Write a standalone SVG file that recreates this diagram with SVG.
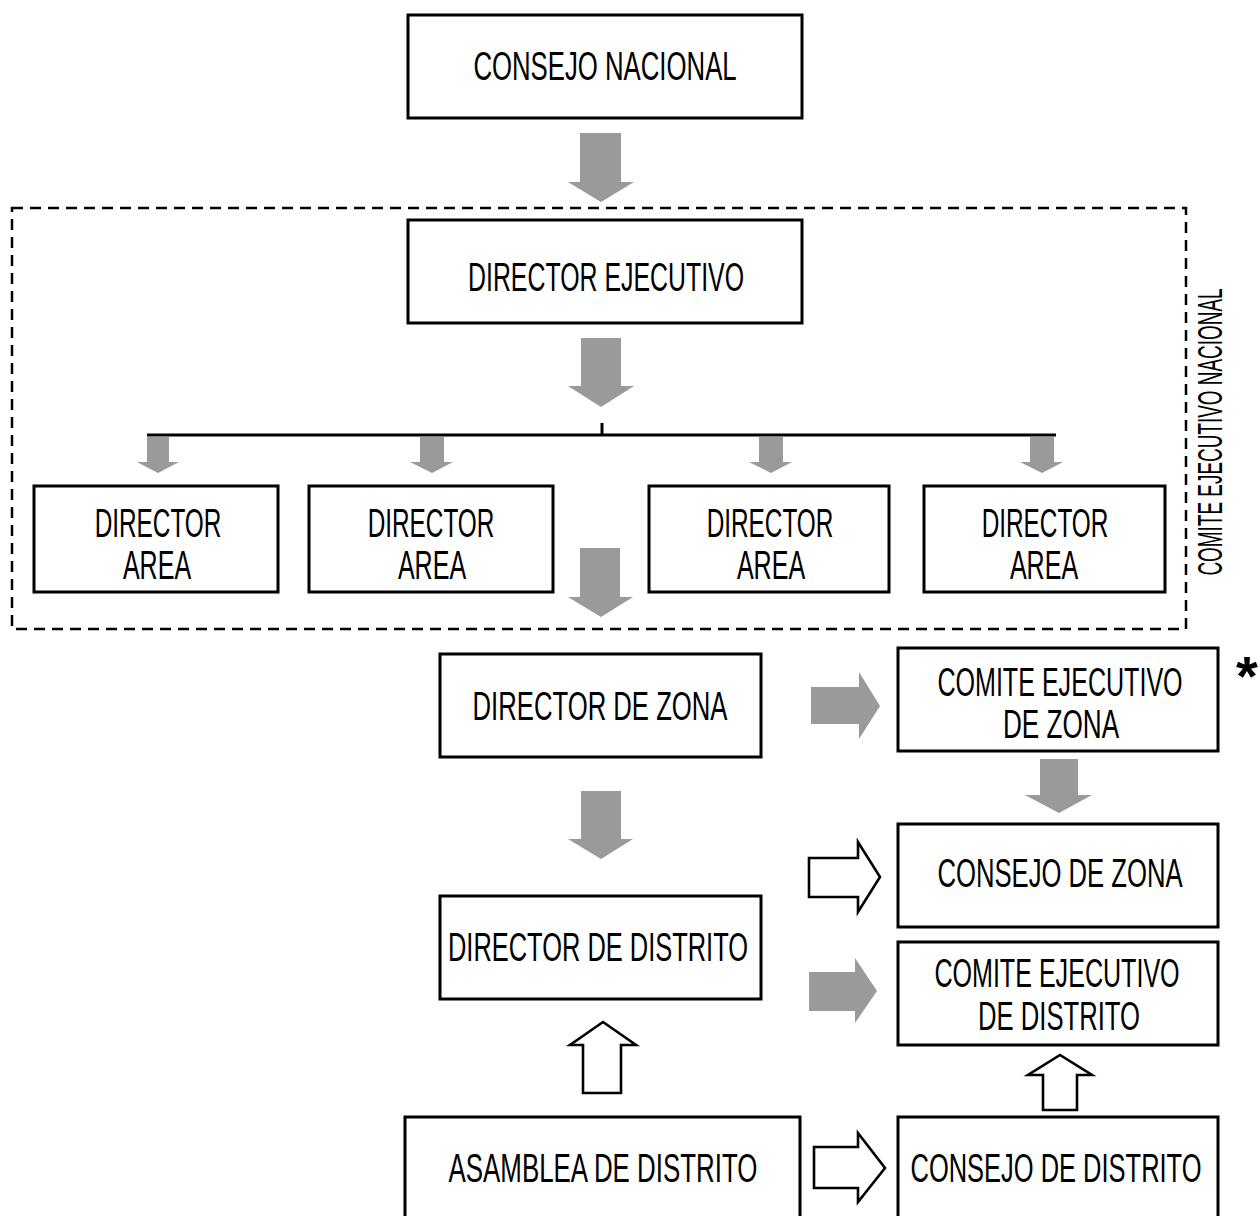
<svg xmlns="http://www.w3.org/2000/svg" width="1260" height="1216" viewBox="0 0 1260 1216">
<style>
.box{fill:#fff;stroke:#000;stroke-width:3}
.t{font-family:"Liberation Sans Narrow","Liberation Sans",Arial,sans-serif;font-size:41px;fill:#000;text-anchor:middle}
.g{fill:#9a9a9a;stroke:none}
.w{fill:#fff;stroke:#000;stroke-width:2.6;stroke-linejoin:miter}
.ln{stroke:#000;stroke-width:3;fill:none}
</style>
<rect width="1260" height="1216" fill="#fff"/>
<g id="comite-ejecutivo-nacional">
<rect x="12" y="208" width="1174" height="421" fill="none" stroke="#000" stroke-width="2.5" stroke-dasharray="11,7"/>
<text class="t" transform="translate(1222,432) rotate(-90) scale(0.75,1)" style="font-size:35px" textLength="383" lengthAdjust="spacingAndGlyphs">COMITE EJECUTIVO NACIONAL</text>
</g>
<g id="consejo-nacional">
<rect class="box" x="408" y="15" width="394" height="103"/>
<text class="t" transform="translate(605,80) scale(0.75,1)" textLength="351" lengthAdjust="spacingAndGlyphs">CONSEJO NACIONAL</text>
</g>
<g id="director-ejecutivo">
<rect class="box" x="408" y="220" width="394" height="103"/>
<text class="t" transform="translate(606,291) scale(0.75,1)" textLength="368" lengthAdjust="spacingAndGlyphs">DIRECTOR EJECUTIVO</text>
</g>
<g id="director-area-1">
<rect class="box" x="34" y="486" width="244" height="106"/>
<text class="t" transform="translate(158,537) scale(0.75,1)" textLength="169" lengthAdjust="spacingAndGlyphs">DIRECTOR</text>
<text class="t" transform="translate(157,579) scale(0.75,1)" textLength="91" lengthAdjust="spacingAndGlyphs">AREA</text>
</g>
<g id="director-area-2">
<rect class="box" x="309" y="486" width="244" height="106"/>
<text class="t" transform="translate(431,537) scale(0.75,1)" textLength="169" lengthAdjust="spacingAndGlyphs">DIRECTOR</text>
<text class="t" transform="translate(432,579) scale(0.75,1)" textLength="91" lengthAdjust="spacingAndGlyphs">AREA</text>
</g>
<g id="director-area-3">
<rect class="box" x="649" y="486" width="240" height="106"/>
<text class="t" transform="translate(770,537) scale(0.75,1)" textLength="169" lengthAdjust="spacingAndGlyphs">DIRECTOR</text>
<text class="t" transform="translate(771,579) scale(0.75,1)" textLength="91" lengthAdjust="spacingAndGlyphs">AREA</text>
</g>
<g id="director-area-4">
<rect class="box" x="924" y="486" width="241" height="106"/>
<text class="t" transform="translate(1045,537) scale(0.75,1)" textLength="169" lengthAdjust="spacingAndGlyphs">DIRECTOR</text>
<text class="t" transform="translate(1044,579) scale(0.75,1)" textLength="91" lengthAdjust="spacingAndGlyphs">AREA</text>
</g>
<g id="director-de-zona">
<rect class="box" x="440" y="654" width="321" height="103"/>
<text class="t" transform="translate(600,720) scale(0.75,1)" textLength="340" lengthAdjust="spacingAndGlyphs">DIRECTOR DE ZONA</text>
</g>
<g id="comite-ejecutivo-de-zona">
<rect class="box" x="898" y="648" width="320" height="103"/>
<text class="t" transform="translate(1060,696) scale(0.75,1)" textLength="327" lengthAdjust="spacingAndGlyphs">COMITE EJECUTIVO</text>
<text class="t" transform="translate(1061,738) scale(0.75,1)" textLength="155" lengthAdjust="spacingAndGlyphs">DE ZONA</text>
<text x="1247" y="695" style="font-family:'Liberation Sans',Arial,sans-serif;font-weight:bold;font-size:56px;text-anchor:middle">*</text>
</g>
<g id="consejo-de-zona">
<rect class="box" x="898" y="824" width="320" height="103"/>
<text class="t" transform="translate(1060,887) scale(0.75,1)" textLength="327" lengthAdjust="spacingAndGlyphs">CONSEJO DE ZONA</text>
</g>
<g id="director-de-distrito">
<rect class="box" x="440" y="896" width="321" height="103"/>
<text class="t" transform="translate(598,961) scale(0.75,1)" textLength="400" lengthAdjust="spacingAndGlyphs">DIRECTOR DE DISTRITO</text>
</g>
<g id="comite-ejecutivo-de-distrito">
<rect class="box" x="898" y="942" width="320" height="103"/>
<text class="t" transform="translate(1057,987) scale(0.75,1)" textLength="327" lengthAdjust="spacingAndGlyphs">COMITE EJECUTIVO</text>
<text class="t" transform="translate(1059,1030) scale(0.75,1)" textLength="216" lengthAdjust="spacingAndGlyphs">DE DISTRITO</text>
</g>
<g id="asamblea-de-distrito">
<rect class="box" x="405" y="1117" width="395" height="120"/>
<text class="t" transform="translate(603,1182) scale(0.75,1)" textLength="412" lengthAdjust="spacingAndGlyphs">ASAMBLEA DE DISTRITO</text>
</g>
<g id="consejo-de-distrito">
<rect class="box" x="898" y="1117" width="320" height="120"/>
<text class="t" transform="translate(1056,1182) scale(0.75,1)" textLength="388" lengthAdjust="spacingAndGlyphs">CONSEJO DE DISTRITO</text>
</g>
<g id="connectors">
<path class="g" d="M580,133H621V182H634L601,202L568,182H580Z"/>
<path class="g" d="M581,338H621V386H634L601,407L568,386H581Z"/>
<line class="ln" x1="147" y1="435" x2="1056" y2="435"/>
<line class="ln" x1="602" y1="423" x2="602" y2="435"/>
<path class="g" d="M147,437H169V462H179L158,473L137,462H147Z"/>
<path class="g" d="M420,437H444V462H453L432,473L410,462H420Z"/>
<path class="g" d="M759,437H783V462H792L771,473L749,462H759Z"/>
<path class="g" d="M1030,437H1054V462H1063L1042,473L1020,462H1030Z"/>
<path class="g" d="M580,548H620V597H633L601,617L568,597H580Z"/>
<path class="g" d="M581,791H621V839H633L601,859L568,839H581Z"/>
<path class="g" d="M811,687H859V672L880,706L859,739V724H811Z"/>
<path class="g" d="M1040,759H1078V795H1092L1059,813L1025,795H1040Z"/>
<path class="w" d="M809,858H858V842L880,877L858,912V897H809Z"/>
<path class="g" d="M809,972H855V958L877,991L855,1023V1011H809Z"/>
<path class="w" d="M583,1093V1045H570L603,1022L636,1045H621V1093Z"/>
<path class="w" d="M1043,1110V1075H1028L1060,1055L1092,1075H1077V1110Z"/>
<path class="w" d="M814,1147H858V1133L885,1168L858,1202V1188H814Z"/>
</g>
</svg>
